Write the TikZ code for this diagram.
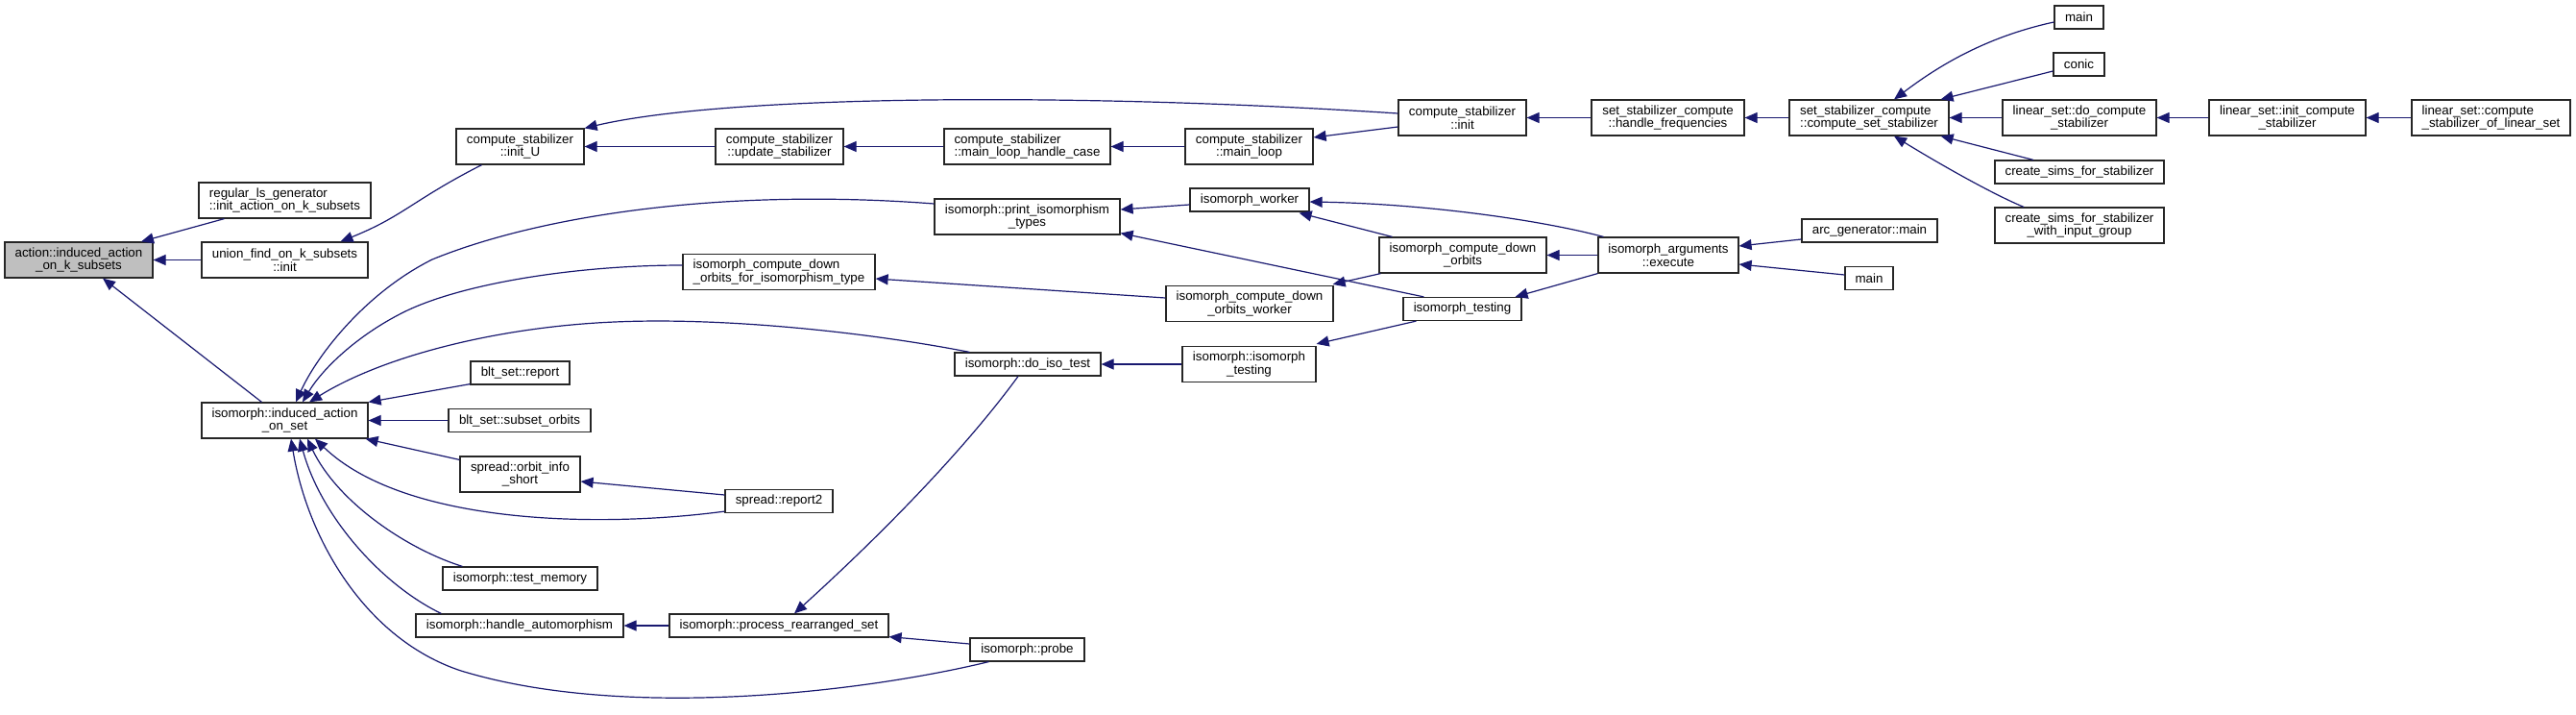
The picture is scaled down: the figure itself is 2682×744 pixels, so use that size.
\documentclass[tikz,border=0pt]{standalone}
\usepackage{fontspec}
\setmainfont{Liberation Sans}
\usetikzlibrary{arrows.meta,calc}
\definecolor{edgec}{HTML}{191970}
\definecolor{nodegray}{HTML}{BFBFBF}
\begin{document}
\begin{tikzpicture}[x=1pt,y=-1pt,
  font=\fontsize{13.33}{13.5}\selectfont,
  box/.style={draw=black!85, fill=white, line width=1.2pt, inner sep=0pt, align=center, text=black},
  lbox/.style={box, align=left},
  e/.style={draw=edgec, line width=1.2pt, -{Triangle[length=13pt,width=11pt]}}]
\fill[white] (0,0) rectangle (2682,744);
\useasboundingbox (0,0) rectangle (2682,744);
% nodes
\node[box, fill=nodegray, minimum width=154pt, minimum height=37pt] (act) at (82,270.5) {action::induced\_action\\\_on\_k\_subsets};
\node[lbox, minimum width=179pt, minimum height=37pt] (rls) at (296.5,208.5) {regular\_ls\_generator\\::init\_action\_on\_k\_subsets};
\node[box, minimum width=173pt, minimum height=37pt] (uf) at (296.5,270.5) {union\_find\_on\_k\_subsets\\::init};
\node[box, minimum width=173pt, minimum height=37pt] (ias) at (296.5,437.5) {isomorph::induced\_action\\\_on\_set};
\node[box, minimum width=133pt, minimum height=37pt] (initU) at (541.5,152.5) {compute\_stabilizer\\::init\_U};
\node[box, minimum width=133pt, minimum height=37pt] (upd) at (811.5,152.5) {compute\_stabilizer\\::update\_stabilizer};
\node[lbox, minimum width=200pt, minimum height=37pt] (dots) at (811,283) {isomorph\_compute\_down\\\_orbits\_for\_isomorphism\_type};
\node[box, minimum width=103pt, minimum height=24pt] (bltr) at (541.5,388) {blt\_set::report};
\node[box, minimum width=148pt, minimum height=24pt] (blts) at (541,437.5) {blt\_set::subset\_orbits};
\node[box, minimum width=125pt, minimum height=37pt] (ois) at (541.5,493.5) {spread::orbit\_info\\\_short};
\node[box, minimum width=112pt, minimum height=24pt] (rep2) at (811,521.5) {spread::report2};
\node[box, minimum width=161pt, minimum height=24pt] (tm) at (541.5,602) {isomorph::test\_memory};
\node[box, minimum width=216pt, minimum height=24pt] (ha) at (541,651) {isomorph::handle\_automorphism};
\node[box, minimum width=228pt, minimum height=24pt] (prs) at (811,651) {isomorph::process\_rearranged\_set};
\node[lbox, minimum width=173pt, minimum height=37pt] (mlhc) at (1069.5,152.5) {compute\_stabilizer\\::main\_loop\_handle\_case};
\node[box, minimum width=133pt, minimum height=37pt] (ml) at (1300.5,152.5) {compute\_stabilizer\\::main\_loop};
\node[box, minimum width=193pt, minimum height=37pt] (pit) at (1069.5,225.5) {isomorph::print\_isomorphism\\\_types};
\node[box, minimum width=124pt, minimum height=24pt] (iw) at (1301,208) {isomorph\_worker};
\node[box, minimum width=174pt, minimum height=37pt] (dow) at (1301,316) {isomorph\_compute\_down\\\_orbits\_worker};
\node[box, minimum width=152pt, minimum height=24pt] (dit) at (1070,379) {isomorph::do\_iso\_test};
\node[box, minimum width=139pt, minimum height=37pt] (iit) at (1300.5,379) {isomorph::isomorph\\\_testing};
\node[box, minimum width=119pt, minimum height=24pt] (probe) at (1069.5,676) {isomorph::probe};
\node[box, minimum width=133pt, minimum height=37pt] (csi) at (1522.5,122.5) {compute\_stabilizer\\::init};
\node[box, minimum width=159pt, minimum height=37pt] (hf) at (1736.5,122.5) {set\_stabilizer\_compute\\::handle\_frequencies};
\node[box, minimum width=174pt, minimum height=37pt] (cdo) at (1523,265.5) {isomorph\_compute\_down\\\_orbits};
\node[box, minimum width=123pt, minimum height=24pt] (ist) at (1522.5,321.5) {isomorph\_testing};
\node[box, minimum width=146pt, minimum height=37pt] (exe) at (1737,265.5) {isomorph\_arguments\\::execute};
\node[lbox, minimum width=166pt, minimum height=37pt] (css) at (1946,122.5) {set\_stabilizer\_compute\\::compute\_set\_stabilizer};
\node[box, minimum width=51pt, minimum height=24pt] (mainA) at (2164.5,18) {main};
\node[box, minimum width=53pt, minimum height=24pt] (conic) at (2164.5,67) {conic};
\node[box, minimum width=160pt, minimum height=37pt] (ldc) at (2165,122.5) {linear\_set::do\_compute\\\_stabilizer};
\node[box, minimum width=176pt, minimum height=24pt] (csfs) at (2165,179) {create\_sims\_for\_stabilizer};
\node[box, minimum width=176pt, minimum height=37pt] (csfsg) at (2165,234.5) {create\_sims\_for\_stabilizer\\\_with\_input\_group};
\node[box, minimum width=141pt, minimum height=24pt] (arc) at (1946.5,240) {arc\_generator::main};
\node[box, minimum width=50pt, minimum height=24pt] (mainB) at (1946,289.5) {main};
\node[box, minimum width=163pt, minimum height=37pt] (lics) at (2381.5,122.5) {linear\_set::init\_compute\\\_stabilizer};
\node[lbox, minimum width=165pt, minimum height=37pt] (lcs) at (2593.5,122.5) {linear\_set::compute\\\_stabilizer\_of\_linear\_set};
% edges
\draw[e] ($(rls.south)+(-63,0)$) -- ($(act.north)+(65,0)$);
\draw[e] (uf.west) -- (act.east);
\draw[e] ($(ias.north)+(-24,0)$) -- ($(act.south)+(25,0)$);
\draw[e] ($(initU.south)+(-40,0)$) .. controls (430,208) and (420,225) .. ($(uf.north)+(58,0)$);
\draw[e] (upd.west) -- (initU.east);
\draw[e] ($(csi.west)+(0,-4.5)$) .. controls (1100,95) and (750,100) .. (initU.north east);
\draw[e] (mlhc.west) -- (upd.east);
\draw[e] (ml.west) -- (mlhc.east);
\draw[e] ($(csi.west)+(0,9.5)$) -- ($(ml.east)+(0,-9.5)$);
\draw[e] (hf.west) -- (csi.east);
\draw[e] (css.west) -- (hf.east);
\draw[e] ($(mainA.west)+(0,5)$) .. controls (2060,40) and (2010,75) .. ($(css.north)+(26,0)$);
\draw[e] ($(conic.west)+(0,7)$) -- ($(css.north east)+(-9,0)$);
\draw[e] (ldc.west) -- (css.east);
\draw[e] ($(csfs.north)+(-48,0)$) -- ($(css.south east)+(-9,0)$);
\draw[e] ($(csfsg.north)+(-58,0)$) .. controls (2070,200) and (2010,165) .. ($(css.south)+(26,0)$);
\draw[e] (lics.west) -- (ldc.east);
\draw[e] (lcs.west) -- (lics.east);
\draw[e] ($(pit.west)+(0,-13.5)$) .. controls (750,195) and (560,225) .. (450,270) .. controls (380,305) and (330,370) .. ($(ias.north)+(11.5,0)$);
\draw[e] ($(dots.west)+(0,-7)$) .. controls (600,276) and (480,295) .. (420,325) .. controls (370,350) and (335,385) .. ($(ias.north)+(18.5,0)$);
\draw[e] ($(dit.north west)+(16,0)$) .. controls (900,345) and (750,330) .. (640,335) .. controls (520,340) and (400,370) .. ($(ias.north)+(25.5,0)$);
\draw[e] ($(bltr.south west)+(0,-1)$) -- (ias.north east);
\draw[e] (blts.west) -- (ias.east);
\draw[e] ($(ois.north west)+(0,4)$) -- ($(ias.south east)+(-3,0)$);
\draw[e] ($(rep2.south west)+(0,-2)$) .. controls (620,550) and (420,545) .. ($(ias.south)+(31.5,0)$);
\draw[e] ($(tm.north west)+(21,0)$) .. controls (420,570) and (350,520) .. ($(ias.south)+(23.5,0)$);
\draw[e] ($(ha.north west)+(27,0)$) .. controls (400,610) and (335,540) .. ($(ias.south)+(15.5,0)$);
\draw[e] ($(probe.south west)+(20,0)$) .. controls (900,720) and (650,750) .. (480,698) .. controls (380,665) and (320,560) .. ($(ias.south)+(6.5,0)$);
\draw[e] ($(rep2.west)+(0,-6.5)$) -- ($(ois.east)+(0,7.5)$);
\draw[e] (prs.west) -- (ha.east);
\draw[e] ($(probe.west)+(0,-6)$) -- ($(prs.south east)+(0,-1)$);
\draw[e] ($(dit.south)+(-10,0)$) .. controls (1010,460) and (930,545) .. ($(prs.north)+(16,0)$);
\draw[e] (iit.west) -- (dit.east);
\draw[e] ($(ist.south west)+(14,0)$) -- ($(iit.north east)+(0,-2)$);
\draw[e] ($(iw.west)+(0,5)$) -- ($(pit.east)+(0,-7.5)$);
\draw[e] ($(ist.north west)+(22,0)$) -- ($(pit.south east)+(0,-2)$);
\draw[e] ($(dow.west)+(0,-6)$) -- ($(dots.east)+(0,7)$);
\draw[e] ($(cdo.north west)+(14,0)$) -- ($(iw.south east)+(-11,1)$);
\draw[e] ($(cdo.south west)+(2,0)$) -- ($(dow.north east)+(-1,-1)$);
\draw[e] ($(exe.north west)+(6,0)$) .. controls (1600,228) and (1480,212) .. ($(iw.east)+(0,2)$);
\draw[e] (exe.west) -- (cdo.east);
\draw[e] (exe.south west) -- ($(ist.north east)+(-7,0)$);
\draw[e] ($(arc.west)+(0,9)$) -- ($(exe.east)+(0,-9.5)$);
\draw[e] ($(mainB.west)+(0,-3.5)$) -- ($(exe.east)+(0,9.5)$);
\end{tikzpicture}
\end{document}
